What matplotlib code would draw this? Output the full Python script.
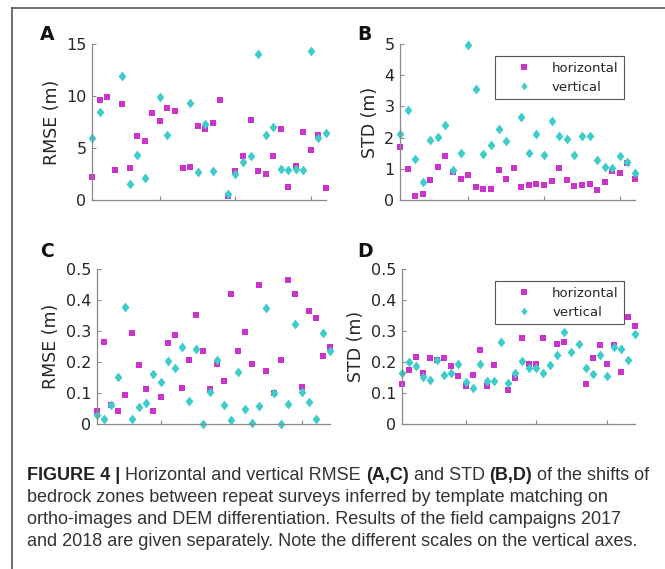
import matplotlib
matplotlib.use('Agg')
import matplotlib.pyplot as plt
from matplotlib.lines import Line2D
from matplotlib.path import Path
import numpy as np

nan = np.nan

# RMSE (m), panel A
rmse_a_hor = [2.24, 9.62, 9.87, 2.88, 9.2, 3.04, 6.19, 5.7, 8.37, 7.6, 8.85, 8.53, 3.08, 3.17, 7.12, 6.86,
              7.4, 9.58, 0.35, 2.76, 4.23, 7.66, 2.82, 2.47, 4.2, 6.83, 1.25, 3.24, 6.54, 4.81, 6.22, 1.15]
rmse_a_ver = [5.96, 8.43, nan, nan, 11.96, 1.57, 4.29, 2.08, nan, 9.87, 6.28, nan, nan, 9.36, 2.66, 7.31,
              2.76, nan, 0.61, 2.53, 3.65, 4.2, 14.04, 6.22, 7.05, 3.01, 2.88, 3.01, 2.85, 14.29, 5.93, 6.47]
# STD (m), panel B
std_b_hor = [1.71, 0.99, 0.14, 0.19, 0.64, 1.07, 1.41, 0.91, 0.68, 0.79, 0.42, 0.36, 0.36, 0.96, 0.67, 1.03,
             0.43, 0.47, 0.51, 0.47, 0.62, 1.04, 0.65, 0.46, 0.48, 0.50, 0.31, 0.58, 0.92, 0.88, 1.18, 0.67]
std_b_ver = [2.12, 2.9, 1.30, 0.57, 1.93, 2.02, 2.41, 0.97, 1.51, 4.98, 3.55, 1.47, 1.75, 2.29, 1.90, nan,
             2.67, 1.51, 2.13, 1.45, 2.54, 2.05, 1.97, 1.45, 2.04, 2.04, 1.27, 1.07, 1.04, 1.40, 1.22, 0.85]
# RMSE (m), panel C
rmse_c_hor = [0.041, 0.264, 0.060, 0.041, 0.093, 0.293, 0.190, 0.112, 0.043, 0.087, 0.262, 0.286, 0.115,
              0.208, 0.351, 0.237, 0.113, 0.195, 0.140, 0.420, 0.234, 0.297, 0.194, 0.447, 0.170, 0.101,
              0.207, 0.466, 0.419, 0.119, 0.363, 0.342, 0.219, 0.249]
rmse_c_ver = [0.028, 0.016, 0.060, 0.151, 0.379, 0.016, 0.055, 0.068, 0.162, 0.135, 0.202, 0.181, 0.248,
              0.075, 0.242, 0.001, 0.103, 0.207, 0.060, 0.013, 0.168, 0.047, 0.003, 0.057, 0.375, 0.101,
              0.0, 0.064, 0.323, 0.102, 0.071, 0.017, 0.295, 0.236]
# STD (m), panel D
std_d_hor = [0.128, 0.173, 0.217, 0.165, 0.212, 0.206, 0.213, 0.187, 0.156, 0.124, 0.159, 0.240, 0.122,
             0.189, nan, 0.109, 0.147, 0.278, 0.192, 0.192, 0.276, nan, 0.258, 0.263, nan, nan, 0.128,
             0.212, 0.256, 0.193, 0.256, 0.168, 0.345, 0.317]
std_d_ver = [0.165, 0.199, 0.188, 0.152, 0.142, 0.206, 0.157, 0.166, 0.193, 0.136, 0.115, 0.193, 0.140,
             0.138, 0.265, 0.131, 0.164, 0.203, 0.182, 0.182, 0.163, 0.190, 0.223, 0.297, 0.233, 0.258,
             0.182, 0.162, 0.224, 0.155, 0.249, 0.242, 0.207, 0.290]

labels = ['horizontal', 'vertical']
mag = '#cc33cc'
cya = '#3ccccc'

# matlab style diamond: a bit taller than wide
diamond = Path([(0, 1), (0.8, 0), (0, -1), (-0.8, 0), (0, 1)],
               [Path.MOVETO, Path.LINETO, Path.LINETO, Path.LINETO, Path.CLOSEPOLY])

W, H = 665, 569
fig = plt.figure(figsize=(W / 100, H / 100), dpi=100)
bg = fig.add_axes([0, 0, 1, 1], zorder=-5)
bg.axis('off')


def box(l, t, r, b):
    return [l / W, 1 - b / H, (r - l) / W, (b - t) / H]


# rect, hor, ver, yticks, yticklabels, ylabel, letter, letter pos (px), legend
panels = [
    (box(92, 44, 326, 200), rmse_a_hor, rmse_a_ver, [0, 5, 10, 15], ['0', '5', '10', '15'], 'RMSE (m)',
     'A', (40, 40), False),
    (box(400, 44, 635, 200), std_b_hor, std_b_ver, [0, 1, 2, 3, 4, 5], ['0', '1', '2', '3', '4', '5'], 'STD (m)',
     'B', (357, 40), True),
    (box(97, 269, 330, 424), rmse_c_hor, rmse_c_ver, [0, 0.1, 0.2, 0.3, 0.4, 0.5],
     ['0', '0.1', '0.2', '0.3', '0.4', '0.5'], 'RMSE (m)', 'C', (40, 257), False),
    (box(402, 269, 635, 424), std_d_hor, std_d_ver, [0, 0.1, 0.2, 0.3, 0.4, 0.5],
     ['0', '0.1', '0.2', '0.3', '0.4', '0.5'], 'STD (m)', 'D', (357, 257), True),
]

for rect, hor, ver, yt, ytl, ylab, letter, lpos, leg in panels:
    ax = fig.add_axes(rect)
    x = np.arange(1, len(hor) + 1)
    ax.plot(x, hor, linestyle='none', marker='s', ms=4.6, mew=0, color=mag, clip_on=False, label=labels[0])
    ax.plot(x, ver, linestyle='none', marker=diamond, ms=7, mew=0, color=cya, clip_on=False, label=labels[1])
    ax.set_xlim(1, len(hor))
    ax.set_ylim(yt[0], yt[-1])
    ax.set_xticks([10, 20, 30])
    ax.set_xticklabels([])
    ax.set_yticks(yt)
    ax.set_yticklabels(ytl)
    for s in ['top', 'right']:
        ax.spines[s].set_visible(False)
    for s in ['left', 'bottom']:
        ax.spines[s].set_color('#8a8a8a')
        ax.spines[s].set_linewidth(0.9)
    ax.tick_params(direction='in', length=3, width=0.8, color='#8a8a8a', labelsize=11.5,
                   labelcolor='#262626', pad=4)
    ax.set_ylabel(ylab, fontsize=12.5, color='#262626', labelpad=4)
    fig.text(lpos[0] / W, 1 - lpos[1] / H, letter, fontsize=13.5, fontweight='bold', color='#111111',
             ha='left', va='baseline')
    if leg:
        lg = ax.legend(loc='upper right', bbox_to_anchor=(0.953, 0.92), borderaxespad=0, fontsize=9.5,
                       handlelength=3.6, handletextpad=0.3, labelspacing=0.45, fancybox=False,
                       edgecolor='#555555', framealpha=1, markerscale=0.8, numpoints=1)
        lg.get_frame().set_linewidth(0.8)
        for t in lg.get_texts():
            t.set_color('#262626')

# frame of the figure panel
fig.add_artist(Line2D([12 / W, 1], [1 - 8 / H, 1 - 8 / H], color='#555555', lw=1.2))
fig.add_artist(Line2D([12 / W, 12 / W], [0, 1 - 8 / H], color='#555555', lw=1.2))

# caption
cap_font = ['Liberation Sans Narrow', 'Liberation Sans', 'DejaVu Sans']
cap_size = 13
cap_col = '#333333'
x0 = 27 / W
line1 = [('FIGURE 4 |', 'bold'), (' Horizontal and vertical RMSE ', 'normal'), ('(A,C)', 'bold'),
         (' and STD ', 'normal'), ('(B,D)', 'bold'), (' of the shifts of', 'normal')]
prev = fig.text(x0, 1 - 480 / H, line1[0][0], fontsize=cap_size, fontweight=line1[0][1],
                family=cap_font, color='#222222', ha='left', va='baseline')
for txt, wt in line1[1:]:
    prev = bg.annotate(txt, xy=(1, 0), xycoords=prev, ha='left', va='bottom', fontsize=cap_size,
                       fontweight=wt, family=cap_font, color=cap_col if wt == 'normal' else '#222222')
other = ['bedrock zones between repeat surveys inferred by template matching on',
         'ortho-images and DEM differentiation. Results of the field campaigns 2017',
         'and 2018 are given separately. Note the different scales on the vertical axes.']
for i, s in enumerate(other):
    fig.text(x0, 1 - (502 + 22 * i) / H, s, fontsize=cap_size, family=cap_font, color=cap_col,
             ha='left', va='baseline')

fig.savefig('out.png', dpi=100)
